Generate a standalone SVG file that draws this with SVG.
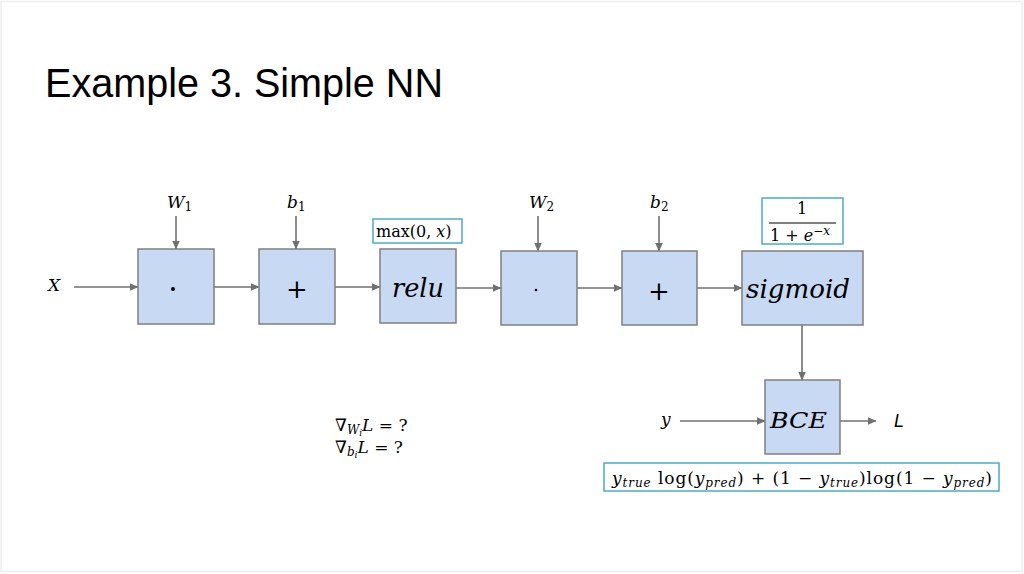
<svg xmlns="http://www.w3.org/2000/svg" width="1024" height="574" viewBox="0 0 1024 574">
<style>
.box{fill:#C8D9F4;stroke:#7F7F7F;stroke-width:1.5}
.fbox{fill:#FFFFFF;stroke:#4BACC6;stroke-width:1.5}
.con{stroke:#707070;stroke-width:1.6;fill:none;marker-end:url(#ah)}
.m{font-family:"DejaVu Serif","Liberation Serif",serif;fill:#000}
.i{font-style:italic}
.title{font-family:"Liberation Sans",Arial,sans-serif;font-size:40px;fill:#000}
</style>
<defs>
<marker id="ah" markerWidth="9" markerHeight="9" refX="8.5" refY="4.5" orient="auto" markerUnits="userSpaceOnUse">
<path d="M0,0.5 L9,4.5 L0,8.5 Z" fill="#707070"/>
</marker>
</defs>
<rect x="1" y="1.5" width="1021" height="570" fill="#FFFFFF" stroke="#EEEEEE" stroke-width="1.5"/>
<text class="title" x="45" y="97" textLength="398" lengthAdjust="spacingAndGlyphs">Example 3. Simple NN</text>

<g id="connectors">
<line class="con" x1="74" y1="287" x2="138" y2="287"/>
<line class="con" x1="214" y1="287" x2="259" y2="287"/>
<line class="con" x1="335" y1="287" x2="380" y2="287"/>
<line class="con" x1="456" y1="288" x2="501" y2="288"/>
<line class="con" x1="577" y1="288" x2="622" y2="288"/>
<line class="con" x1="697" y1="288" x2="742" y2="288"/>
<line class="con" x1="802" y1="325" x2="802" y2="380"/>
<line class="con" x1="680" y1="421" x2="765" y2="421"/>
<line class="con" x1="840" y1="421" x2="876" y2="421"/>
<line class="con" x1="176" y1="216" x2="176" y2="249"/>
<line class="con" x1="296" y1="216" x2="296" y2="249"/>
<line class="con" x1="538" y1="216" x2="538" y2="251"/>
<line class="con" x1="659" y1="216" x2="659" y2="251"/>
</g>

<g id="label-X"><text class="m i" x="48" y="291" font-size="17">X</text></g>
<g id="label-W1"><text class="m" x="167" y="208" font-size="17"><tspan class="i">W</tspan><tspan font-size="12" dy="3">1</tspan></text></g>
<g id="label-b1"><text class="m" x="287" y="208" font-size="17"><tspan class="i">b</tspan><tspan font-size="12" dy="3">1</tspan></text></g>
<g id="label-W2"><text class="m" x="529" y="208" font-size="17"><tspan class="i">W</tspan><tspan font-size="12" dy="3">2</tspan></text></g>
<g id="label-b2"><text class="m" x="650" y="208" font-size="17"><tspan class="i">b</tspan><tspan font-size="12" dy="3">2</tspan></text></g>

<g id="node-dot1">
<rect class="box" x="138" y="249" width="76" height="75"/>
<circle cx="173" cy="289" r="2" fill="#000"/>
</g>
<g id="node-plus1">
<rect class="box" x="259" y="249" width="76" height="75"/>
<text class="m" x="297" y="298" font-size="26" text-anchor="middle">+</text>
</g>
<g id="node-relu">
<rect class="box" x="380" y="249" width="76" height="74"/>
<text class="m i" x="392" y="297" font-size="26" textLength="52" lengthAdjust="spacingAndGlyphs">relu</text>
</g>
<g id="formula-max">
<rect class="fbox" x="373" y="219" width="89" height="24"/>
<text class="m" x="376" y="237" font-size="16">max(0, <tspan class="i">x</tspan>)</text>
</g>
<g id="node-dot2">
<rect class="box" x="501" y="251" width="76" height="74"/>
<circle cx="536" cy="290" r="1.3" fill="#000"/>
</g>
<g id="node-plus2">
<rect class="box" x="622" y="251" width="75" height="74"/>
<text class="m" x="659" y="300" font-size="26" text-anchor="middle">+</text>
</g>
<g id="node-sigmoid">
<rect class="box" x="742" y="251" width="121" height="74"/>
<text class="m i" x="746" y="298" font-size="26" textLength="104" lengthAdjust="spacingAndGlyphs">sigmoid</text>
</g>
<g id="formula-sigmoid">
<rect class="fbox" x="762" y="198" width="81" height="46"/>
<text class="m" x="802" y="214" font-size="16" text-anchor="middle">1</text>
<line x1="769" y1="223" x2="836" y2="223" stroke="#000" stroke-width="1"/>
<text class="m" x="770" y="241" font-size="16">1 + <tspan class="i">e</tspan><tspan font-size="12" dy="-6">−<tspan class="i">x</tspan></tspan></text>
</g>
<g id="node-BCE">
<rect class="box" x="765" y="380" width="75" height="74"/>
<text class="m i" x="770" y="428" font-size="23" textLength="57" lengthAdjust="spacingAndGlyphs">BCE</text>
</g>
<g id="label-y"><text class="m i" x="661" y="425" font-size="17">y</text></g>
<g id="label-L"><text x="894" y="427" font-family="'Liberation Sans',Arial,sans-serif" font-size="18" font-style="italic">L</text></g>
<g id="formula-bce">
<rect class="fbox" x="604" y="463" width="395" height="28"/>
<text class="m" x="612" y="484" font-size="17" textLength="380" lengthAdjust="spacing"><tspan class="i">y</tspan><tspan class="i" font-size="12" dy="3">true</tspan><tspan dy="-3"> log(</tspan><tspan class="i">y</tspan><tspan class="i" font-size="12" dy="3">pred</tspan><tspan dy="-3">) + (1 − </tspan><tspan class="i">y</tspan><tspan class="i" font-size="12" dy="3">true</tspan><tspan dy="-3">)log(1 − </tspan><tspan class="i">y</tspan><tspan class="i" font-size="12" dy="3">pred</tspan><tspan dy="-3">)</tspan></text>
</g>
<g id="gradients">
<text class="m" x="335" y="431" font-size="17"><tspan class="i">∇</tspan><tspan class="i" font-size="12" dy="3">W</tspan><tspan class="i" font-size="9" dy="2">i</tspan><tspan class="i" dy="-5">L</tspan> = ?</text>
<text class="m" x="335" y="453" font-size="17"><tspan class="i">∇</tspan><tspan class="i" font-size="12" dy="3">b</tspan><tspan class="i" font-size="9" dy="2">i</tspan><tspan class="i" dy="-5">L</tspan> = ?</text>
</g>
</svg>
